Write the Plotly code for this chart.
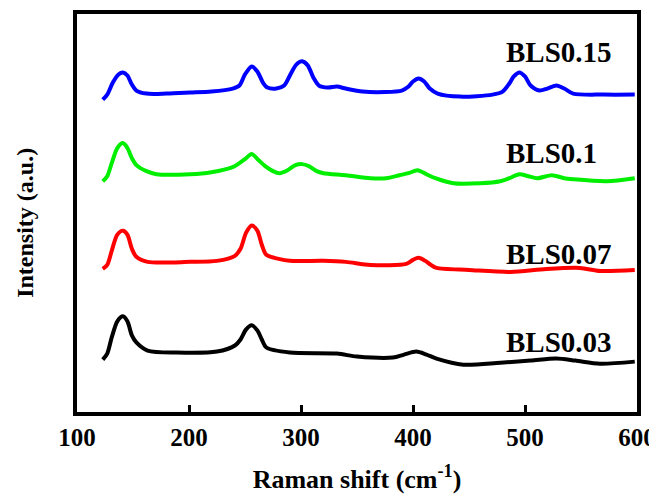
import plotly.graph_objects as go

# Raman shift (cm^-1) and offset intensities (a.u.)
x_bls015 = [123,127,132,137,141,145,149,153,162,180,201,220,239,245,250,256,261,266,270,278,285,291,296,301,306,311,316,324,332,340,355,375,390,396,400,405,410,415,422,442,471,480,486,490,495,500,505,513,520,528,535,543,570,598]
y_bls015 = [310,315,327,335,337,334,325,319,316,316,317,318,321,324,335,343,338,327,322,321,324,336,345,348,344,332,324,322,323,321,318,317.5,319,323,328,331,328,321,316,313,315,318,326,333,337,333,324,319,321,324,321,316,315,315]

x_bls01 = [123,127,131,136,141,145,149,153,162,171,201,220,239,245,250,256,262,268,275,281,288,295,301,307,314,320,340,362,376,388,396,404,412,420,436,460,478,486,495,503,511,524,535,543,573,598]
y_bls01 = [229,234,247,262,267,262,252,245,239,236,236,238,243,247,251,256,250,244,239,237,240,245,246,244,239,237,235,232,232,235,237,240,236,232,227,227,229,232,236,234,232,235,232,231,229,232]

x_bls007 = [123,127,131,136,141,145,149,153,163,201,225,241,246,251,256,261,265,269,280,290,320,340,362,394,400,405,411,416,421,450,487,519,549,567,598]
y_bls007 = [142,146,160,176,180,176,162,154,149,149,150,155,162,178,185,180,166,156,152,150,150,149,146,147,151,153,150,146,143,141,139,142,143,140,141]

x_bls003 = [123,127,131,136,141,145,149,153,163,189,225,241,246,251,256,261,265,269,290,332,350,382,392,403,412,421,445,478,505,528,545,567,598]
y_bls003 = [52,58,74,90,95,90,76,69,61,59,60,66,72,82,86,81,72,64,59,58,55,54,57,60,57,53,47,49,51,53,51,48,50]

series_names = ["BLS0.03", "BLS0.07", "BLS0.1", "BLS0.15"]
series_colors = ["#000000", "#ff0000", "#00ee00", "#0000ff"]
label_y = [69, 157, 257, 357]
label_x = 481

x_ticks = [100, 200, 300, 400, 500, 600]

FONT = "Liberation Serif, Times New Roman, serif"

fig = go.Figure()
xs = [x_bls003, x_bls007, x_bls01, x_bls015]
ys = [y_bls003, y_bls007, y_bls01, y_bls015]
for name, xv, yv, col in zip(series_names, xs, ys, series_colors):
    fig.add_trace(go.Scatter(x=xv, y=yv, mode="lines", name=name,
                             line=dict(color=col, width=4, shape="spline", smoothing=0.8),
                             showlegend=False, hoverinfo="skip"))

for name, ly in zip(series_names, label_y):
    fig.add_annotation(x=label_x, y=ly, text="<b>%s</b>" % name, showarrow=False,
                       xanchor="left", yanchor="middle",
                       font=dict(family=FONT, size=29, color="black"))

# y-axis title placed as a rotated annotation
fig.add_annotation(x=-0.093, y=0.475, xref="paper", yref="paper",
                   text="<b>Intensity (a.u.)</b>", textangle=-90, showarrow=False,
                   xanchor="center", yanchor="middle",
                   font=dict(family=FONT, size=24, color="black"))

# the page body has an 8px default margin, so the figure is 8px smaller
fig.update_layout(
    width=649, height=486,
    margin=dict(l=69, r=20, t=6, b=82),
    paper_bgcolor="white", plot_bgcolor="white",
    font=dict(family=FONT, color="black"),
)
fig.update_xaxes(range=[100, 600], tickvals=x_ticks, ticktext=["<b>%d</b>" % t for t in x_ticks],
                 ticks="inside", ticklen=7, tickwidth=3, tickcolor="black",
                 showline=True, linewidth=4, linecolor="black", mirror=True,
                 showgrid=False, zeroline=False, automargin=False,
                 tickfont=dict(family=FONT, size=25, color="black"),
                 title=dict(text="<b>Raman shift (cm<sup>-1</sup>)</b>", standoff=30,
                            font=dict(family=FONT, size=26, color="black")))
fig.update_yaxes(range=[0, 395], showticklabels=False, ticks="",
                 showline=True, linewidth=4, linecolor="black", mirror=True,
                 showgrid=False, zeroline=False, automargin=False)

fig.write_html("out.html")
